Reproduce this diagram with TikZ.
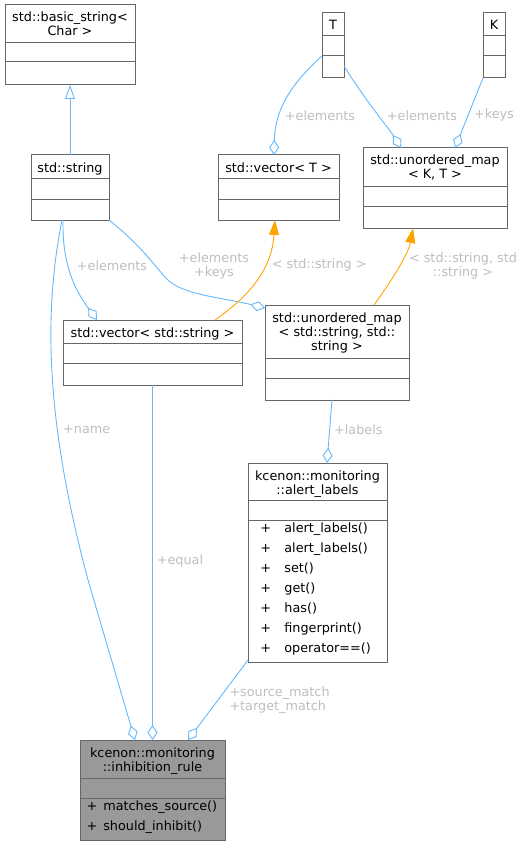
\documentclass[tikz,border=0pt]{standalone}
\usepackage{fontspec}
\setmainfont{DejaVu Sans}
\usepackage{xcolor}
\usepackage{tikz}
\usetikzlibrary{arrows.meta}

\definecolor{edgeblue}{HTML}{63B8FF}
\definecolor{tmplorange}{HTML}{FFA500}
\definecolor{boxgray}{HTML}{666666}
\definecolor{lblgray}{HTML}{BEBEBE}
\definecolor{focusgray}{HTML}{999999}
\newcommand{\dfont}{\fontsize{12.8}{14}\selectfont}

\begin{document}
\begin{tikzpicture}[x=1pt,y=-1pt,
      class node/.style={rectangle,draw=boxgray,fill=white,line width=1pt,inner sep=0pt,outer sep=0pt},
      focus node/.style={class node,fill=focusgray},
      title node/.style={anchor=north,align=center,inner sep=0pt,font=\dfont},
      member node/.style={anchor=base west,inner sep=0pt,font=\dfont},
      label node/.style={inner sep=0pt,align=center,font=\dfont,text=lblgray},
      divider/.style={draw=boxgray,line width=1pt},
      assoc/.style={draw=edgeblue,line width=0.9pt,-{Diamond[open,length=15pt,width=10pt]}},
      inherit/.style={draw=edgeblue,line width=0.9pt,-{Triangle[open,length=14pt,width=10pt]}},
      tmpl/.style={draw=tmplorange,line width=0.9pt,-{Triangle[length=15pt,width=10pt,fill=tmplorange]}}]

    \useasboundingbox (0,0) rectangle (525,845);

    % class boxes
    \node[class node,minimum width=130pt,minimum height=80pt] (bstr) at (70,45) {};
    \node[class node,minimum width=22pt,minimum height=65pt] (tparam) at (333,45.5) {};
    \node[class node,minimum width=22pt,minimum height=65pt] (kparam) at (494,45.5) {};
    \node[class node,minimum width=78pt,minimum height=65pt] (str) at (70,187.5) {};
    \node[class node,minimum width=121pt,minimum height=65pt] (vecT) at (278.5,187.5) {};
    \node[class node,minimum width=144pt,minimum height=80pt] (mapKT) at (435,188) {};
    \node[class node,minimum width=179pt,minimum height=65pt] (vecS) at (152.5,352.5) {};
    \node[class node,minimum width=144pt,minimum height=95pt] (mapSS) at (337,352.5) {};
    \node[class node,minimum width=139pt,minimum height=199pt] (alabels) at (317.5,562.5) {};
    \node[focus node,minimum width=145pt,minimum height=100pt] (irule) at (152.5,790) {};

    % compartments
    \draw[divider] ([yshift=-38pt]bstr.north west) -- ([yshift=-38pt]bstr.north east);
    \draw[divider] ([yshift=-57pt]bstr.north west) -- ([yshift=-57pt]bstr.north east);
    \draw[divider] ([yshift=-23pt]tparam.north west) -- ([yshift=-23pt]tparam.north east);
    \draw[divider] ([yshift=-43pt]tparam.north west) -- ([yshift=-43pt]tparam.north east);
    \draw[divider] ([yshift=-23pt]kparam.north west) -- ([yshift=-23pt]kparam.north east);
    \draw[divider] ([yshift=-43pt]kparam.north west) -- ([yshift=-43pt]kparam.north east);
    \draw[divider] ([yshift=-24pt]str.north west) -- ([yshift=-24pt]str.north east);
    \draw[divider] ([yshift=-44pt]str.north west) -- ([yshift=-44pt]str.north east);
    \draw[divider] ([yshift=-24pt]vecT.north west) -- ([yshift=-24pt]vecT.north east);
    \draw[divider] ([yshift=-44pt]vecT.north west) -- ([yshift=-44pt]vecT.north east);
    \draw[divider] ([yshift=-38pt]mapKT.north west) -- ([yshift=-38pt]mapKT.north east);
    \draw[divider] ([yshift=-58pt]mapKT.north west) -- ([yshift=-58pt]mapKT.north east);
    \draw[divider] ([yshift=-23pt]vecS.north west) -- ([yshift=-23pt]vecS.north east);
    \draw[divider] ([yshift=-43pt]vecS.north west) -- ([yshift=-43pt]vecS.north east);
    \draw[divider] ([yshift=-53pt]mapSS.north west) -- ([yshift=-53pt]mapSS.north east);
    \draw[divider] ([yshift=-73pt]mapSS.north west) -- ([yshift=-73pt]mapSS.north east);
    \draw[divider] ([yshift=-37pt]alabels.north west) -- ([yshift=-37pt]alabels.north east);
    \draw[divider] ([yshift=-57pt]alabels.north west) -- ([yshift=-57pt]alabels.north east);
    \draw[divider] ([yshift=-38pt]irule.north west) -- ([yshift=-38pt]irule.north east);
    \draw[divider] ([yshift=-58pt]irule.north west) -- ([yshift=-58pt]irule.north east);

    % titles
    \node[title node] (bstr-t) at (70,11.2) {\strut std::basic\_string<\\Char >\strut};
    \node[title node] (tparam-t) at (333,19.7) {\strut T};
    \node[title node] (kparam-t) at (494,19.7) {\strut K};
    \node[title node] (str-t) at (70,162.2) {\strut std::string};
    \node[title node] (vecT-t) at (278.5,162.2) {\strut std::vector< T >};
    \node[title node] (mapKT-t) at (435,154.9) {\strut std::unordered\_map\\< K, T >\strut};
    \node[title node] (vecS-t) at (152.5,327.5) {\strut std::vector< std::string >};
    \node[title node] (mapSS-t) at (337,312.5) {\strut std::unordered\_map\\< std::string, std::\\string >\strut};
    \node[title node] (alabels-t) at (317.5,470.2) {\strut kcenon::monitoring\\::alert\_labels\strut};
    \node[title node] (irule-t) at (152.5,747.5) {\strut kcenon::monitoring\\::inhibition\_rule\strut};

    % members
    \node[member node] (alabels-m1) at (260.1,532.3) {\makebox[24.1pt][l]{+}alert\_labels()};
    \node[member node] (alabels-m2) at (260.1,552.3) {\makebox[24.1pt][l]{+}alert\_labels()};
    \node[member node] (alabels-m3) at (260.1,572.3) {\makebox[24.1pt][l]{+}set()};
    \node[member node] (alabels-m4) at (260.1,592.3) {\makebox[24.1pt][l]{+}get()};
    \node[member node] (alabels-m5) at (260.1,612.3) {\makebox[24.1pt][l]{+}has()};
    \node[member node] (alabels-m6) at (260.1,632.3) {\makebox[24.1pt][l]{+}fingerprint()};
    \node[member node] (alabels-m7) at (260.1,652.3) {\makebox[24.1pt][l]{+}operator==()};
    \node[member node] (irule-m1) at (86.3,810.7) {\makebox[16.8pt][l]{+}matches\_source()};
    \node[member node] (irule-m2) at (86.3,830.7) {\makebox[16.8pt][l]{+}should\_inhibit()};

    % connectors
    \draw[inherit] (str.north) -- (bstr.south);
    \draw[assoc] ([yshift=-10.5pt]tparam.west) .. controls (290,85) and (275,110) .. ([xshift=-4.5pt]vecT.north);
    \draw[assoc] ([yshift=-20.5pt]tparam.east) .. controls (365,100) and (390,130) .. ([xshift=-34pt]mapKT.north);
    \draw[assoc] (kparam.south west) -- ([xshift=20pt]mapKT.north);
    \draw[assoc] ([xshift=-7pt]str.south) .. controls (62,265) and (75,290) .. ([xshift=34pt]vecS.north west);
    \draw[assoc] (str.south east) .. controls (140,245) and (150,260) .. (165,277)
        .. controls (180,295) and (220,297) .. ([yshift=-3pt]mapSS.north west);
    \draw[tmpl] ([xshift=62.5pt]vecS.north) .. controls (255,292) and (272,265) .. ([xshift=-3.5pt]vecT.south);
    \draw[tmpl] ([xshift=37pt]mapSS.north) .. controls (392,280) and (408,255) .. ([xshift=-22pt]mapKT.south);
    \draw[assoc] ([xshift=-8pt]str.south) .. controls (42,320) and (48,430) .. (88,580) -- ([xshift=-17.5pt]irule.north);
    \draw[assoc] (vecS.south) -- (irule.north);
    \draw[assoc] ([xshift=-5pt]mapSS.south) -- ([xshift=9.5pt]alabels.north);
    \draw[assoc] ([yshift=2pt]alabels.south west) -- ([xshift=35.5pt]irule.north);

    % connector labels
    \node[label node] (l-telem1) at (320,115.3) {+elements};
    \node[label node] (l-telem2) at (422,115.3) {+elements};
    \node[label node] (l-keys) at (494,115.3) {+keys};
    \node[label node] (l-selem) at (112,265.3) {+elements};
    \node[label node] (l-skeys) at (214,266) {+elements\\+keys};
    \node[label node] (l-vinst) at (319.2,265.3) {< std::string >};
    \node[label node] (l-minst) at (463,266) {< std::string, std\\::string >};
    \node[label node] (l-name) at (86.7,430) {+name};
    \node[label node] (l-equal) at (180,561.3) {+equal};
    \node[label node] (l-labels) at (358.3,430) {+labels};
    \node[label node,anchor=west,align=left] (l-match) at (229.3,700) {+source\_match\\+target\_match};
\end{tikzpicture}
\end{document}
